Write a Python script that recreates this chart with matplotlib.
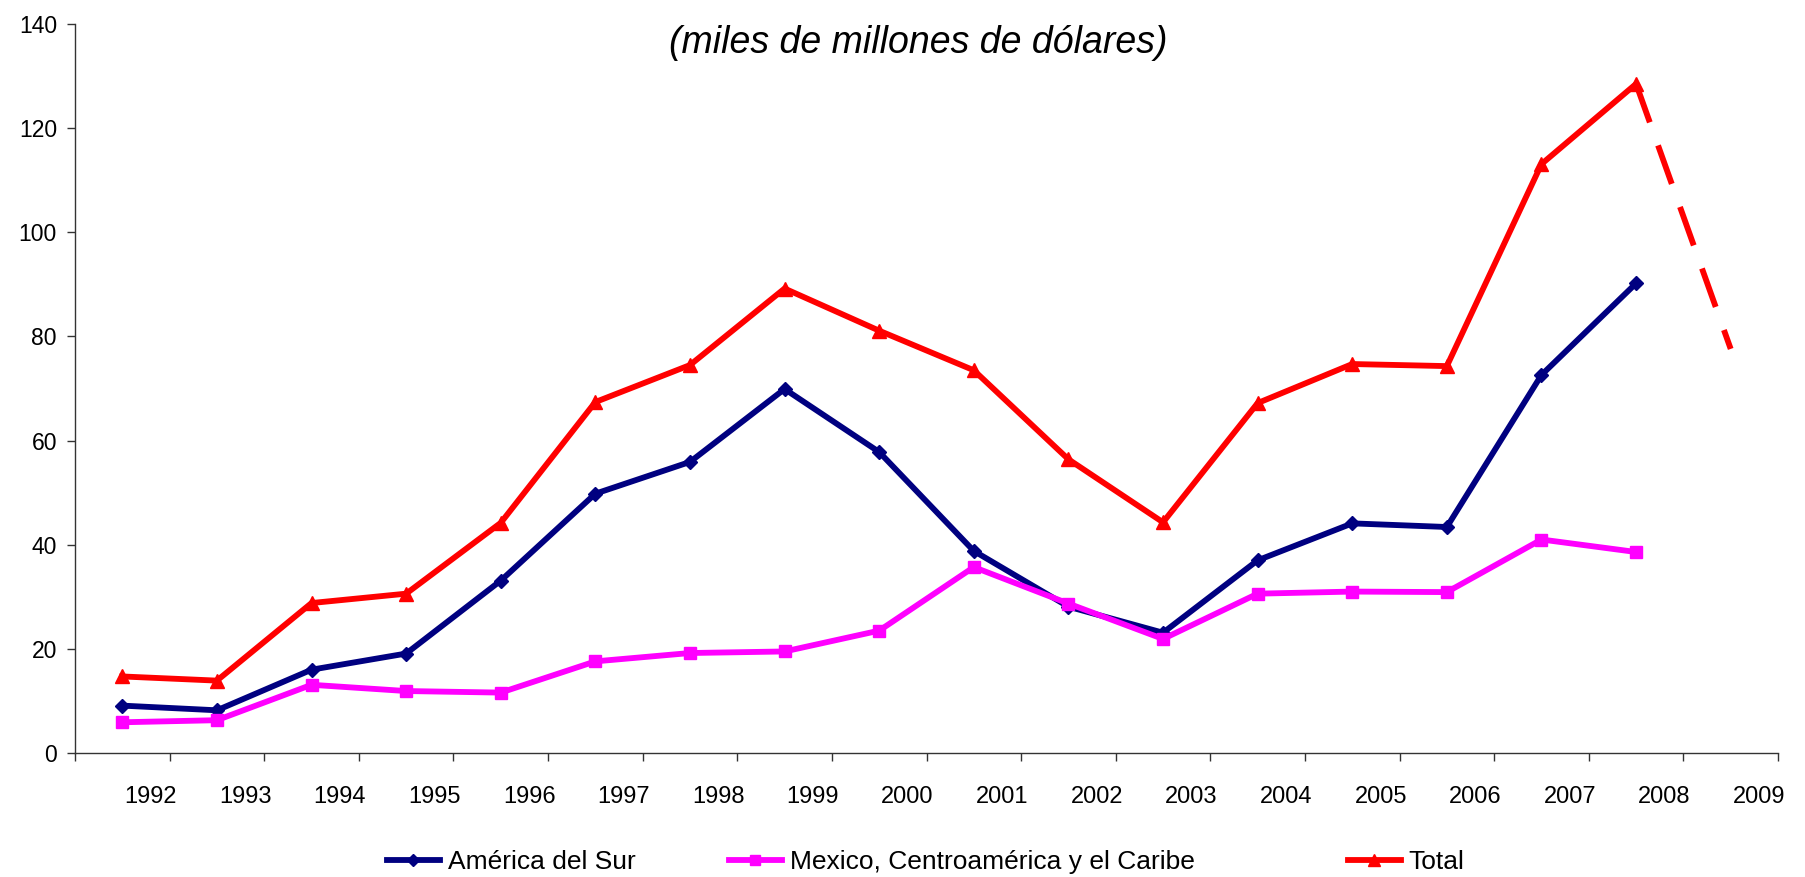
import numpy as np
import matplotlib
matplotlib.use("Agg")
import matplotlib.pyplot as plt
from matplotlib.lines import Line2D

plt.rcParams['font.family'] = ['Liberation Sans', 'DejaVu Sans']

years = [str(y) for y in range(1992, 2010)]

# miles de millones de dólares, 1992-2008
america_sur = [9.1, 8.2, 16.0, 19.1, 33.1, 49.8, 55.9, 69.9, 57.8, 38.8,
               28.1, 23.1, 37.0, 44.1, 43.4, 72.6, 90.2]
mexico_ca = [5.9, 6.3, 13.1, 11.9, 11.6, 17.6, 19.2, 19.5, 23.5, 35.7,
             28.7, 21.9, 30.6, 31.0, 30.9, 41.0, 38.6]
total = [14.7, 13.9, 28.8, 30.6, 44.2, 67.4, 74.5, 89.2, 81.1, 73.5,
         56.4, 44.3, 67.2, 74.7, 74.3, 113.1, 128.5]
# proyección 2008 -> 2009
total_proy = [128.5, 77.6]

NAVY = '#000080'
MAGENTA = '#FF00FF'
RED = '#FF0000'

fig = plt.figure(figsize=(18.05, 8.77), dpi=100)
ax = fig.add_axes([75 / 1805, 1 - 753 / 877, (1778 - 75) / 1805, (753 - 24) / 877])

x = np.arange(len(america_sur)) + 0.5
lw = 4.2
ax.plot(x, america_sur, color=NAVY, lw=lw, marker='D', ms=7.5, mfc=NAVY, mec=NAVY)
ax.plot(x, mexico_ca, color=MAGENTA, lw=lw, marker='s', ms=8.5, mfc=MAGENTA, mec=MAGENTA)
ax.plot(x, total, color=RED, lw=lw, marker='^', ms=9.5, mfc=RED, mec=RED)
ax.plot([x[-1], x[-1] + 1], total_proy, color=RED, lw=lw, dashes=(7.0, 4.2),
        solid_capstyle='butt')

ax.set_xlim(0, len(years))
ax.set_ylim(0, 140)
ax.set_yticks(range(0, 141, 20))
ax.set_xticks(range(0, len(years) + 1))
ax.set_xticklabels([])
for i, lab in enumerate(years):
    ax.text(i + 0.8, -8.5, lab, ha='center', va='center', fontsize=17,
            transform=ax.transData, clip_on=False)

for s in ['top', 'right']:
    ax.spines[s].set_visible(False)
for s in ['left', 'bottom']:
    ax.spines[s].set_color('#333333')
    ax.spines[s].set_linewidth(1.0)
ax.tick_params(axis='both', direction='out', length=6, width=1.0, color='#333333')
ax.tick_params(axis='y', labelsize=16.5, pad=7)

fig.text(918 / 1805, 1 - 43 / 877, '(miles de millones de dólares)', ha='center',
         va='center', fontsize=27, style='italic')

# leyenda: una entrada por bloque, espaciado como en el original
entries = [
    ('América del Sur', NAVY, 'D', 7.5, 387),
    ('Mexico, Centroamérica y el Caribe', MAGENTA, 's', 8.5, 729),
    ('Total', RED, '^', 9.5, 1348),
]
for label, col, mk, ms, x0 in entries:
    h = Line2D([], [], color=col, lw=lw, marker=mk, ms=ms * 0.85, mfc=col, mec=col)
    fig.legend([h], [label], loc='center left', bbox_to_anchor=(x0 / 1805, 1 - 862 / 877),
               frameon=False, fontsize=19, borderpad=0, borderaxespad=0,
               handlelength=2.0, handletextpad=0.3, numpoints=1)

fig.savefig('out.png', dpi=100)
